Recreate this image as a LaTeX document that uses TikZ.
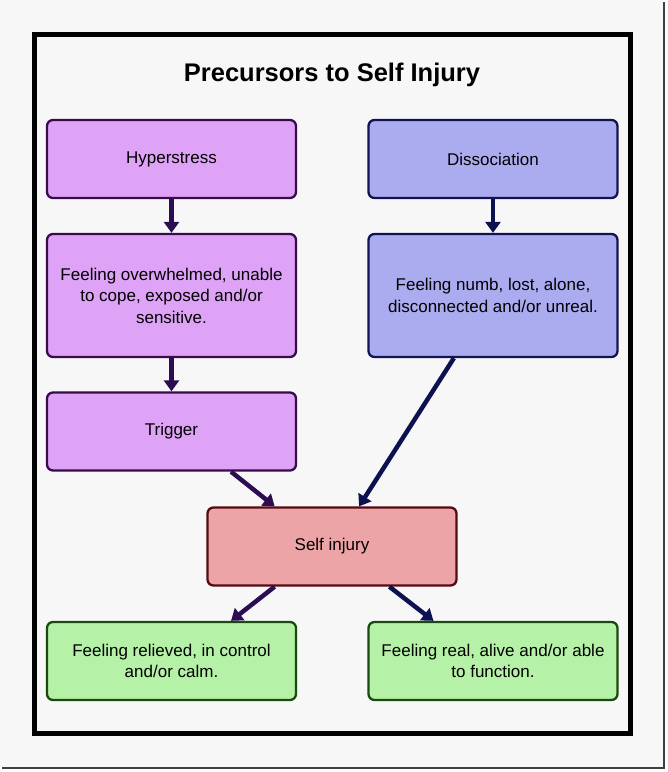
\documentclass[tikz,border=0pt]{standalone}
\usepackage{fontspec}
\setmainfont{Liberation Sans}
\usetikzlibrary{arrows.meta}

\definecolor{pagebg}{HTML}{F7F7F7}
\definecolor{hyperfill}{HTML}{DEA2F6}
\definecolor{hyperdraw}{HTML}{3A0B4C}
\definecolor{dissfill}{HTML}{ABACEF}
\definecolor{dissdraw}{HTML}{121452}
\definecolor{injfill}{HTML}{ECA4A6}
\definecolor{injdraw}{HTML}{560A12}
\definecolor{relfill}{HTML}{B5F2A7}
\definecolor{reldraw}{HTML}{1B4A10}
\definecolor{purplearrow}{HTML}{2C0C52}
\definecolor{navyarrow}{HTML}{0C1250}

\tikzset{
  box/.style={draw, line width=2.3pt, rounded corners=6pt, minimum width=249pt,
    minimum height=78pt, align=center, font=\fontsize{17}{21.5}\selectfont},
  hyper/.style={box, fill=hyperfill, draw=hyperdraw},
  diss/.style={box, fill=dissfill, draw=dissdraw},
  injury/.style={box, fill=injfill, draw=injdraw},
  relief/.style={box, fill=relfill, draw=reldraw},
  flow/.style={line width=4.5pt, -{Triangle[length=11pt,width=15pt]}},
}

\begin{document}
\begin{tikzpicture}[x=1pt, y=-1pt]
    % page with shadow
    \fill[black!75] (2,2) rectangle (665,769);
    \fill[pagebg] (0,0) rectangle (663,767);
    \useasboundingbox (0,0) rectangle (668,772);

    % frame
    \draw[line width=5pt] (34,34) rectangle (630,733);
    \node[font=\bfseries\fontsize{25.5}{30}\selectfont] (title) at (332,75) {Precursors to Self Injury};

    % left column
    \node[hyper] (hyperstress) at (171.5,159) {Hyperstress};
    \node[hyper, minimum height=123pt] (overwhelmed) at (171.5,295.5)
        {Feeling overwhelmed, unable\\ to cope, exposed and/or\\ sensitive.};
    \node[hyper] (trigger) at (171.5,431.5) {Trigger};

    % right column
    \node[diss] (dissociation) at (493,159) {Dissociation};
    \node[diss, minimum height=123pt] (numb) at (493,295.5)
        {Feeling numb, lost, alone,\\ disconnected and/or unreal.};

    % centre
    \node[injury] (selfinjury) at (332,546.5) {Self injury};

    % outcomes
    \node[relief] (relieved) at (171.5,661) {Feeling relieved, in control\\ and/or calm.};
    \node[relief] (real) at (493,661) {Feeling real, alive and/or able\\ to function.};

    % arrows
    \draw[flow, purplearrow] (hyperstress) -- (overwhelmed);
    \draw[flow, purplearrow] (overwhelmed) -- (trigger);
    \draw[flow, navyarrow] (dissociation) -- (numb);
    \draw[flow, purplearrow] (trigger.-34) -- (selfinjury.145);
    \draw[flow, navyarrow] (numb.-122) -- (selfinjury.56);
    \draw[flow, purplearrow] (selfinjury.-145) -- (relieved.34);
    \draw[flow, navyarrow] (selfinjury.-35) -- (real.146);
\end{tikzpicture}
\end{document}
